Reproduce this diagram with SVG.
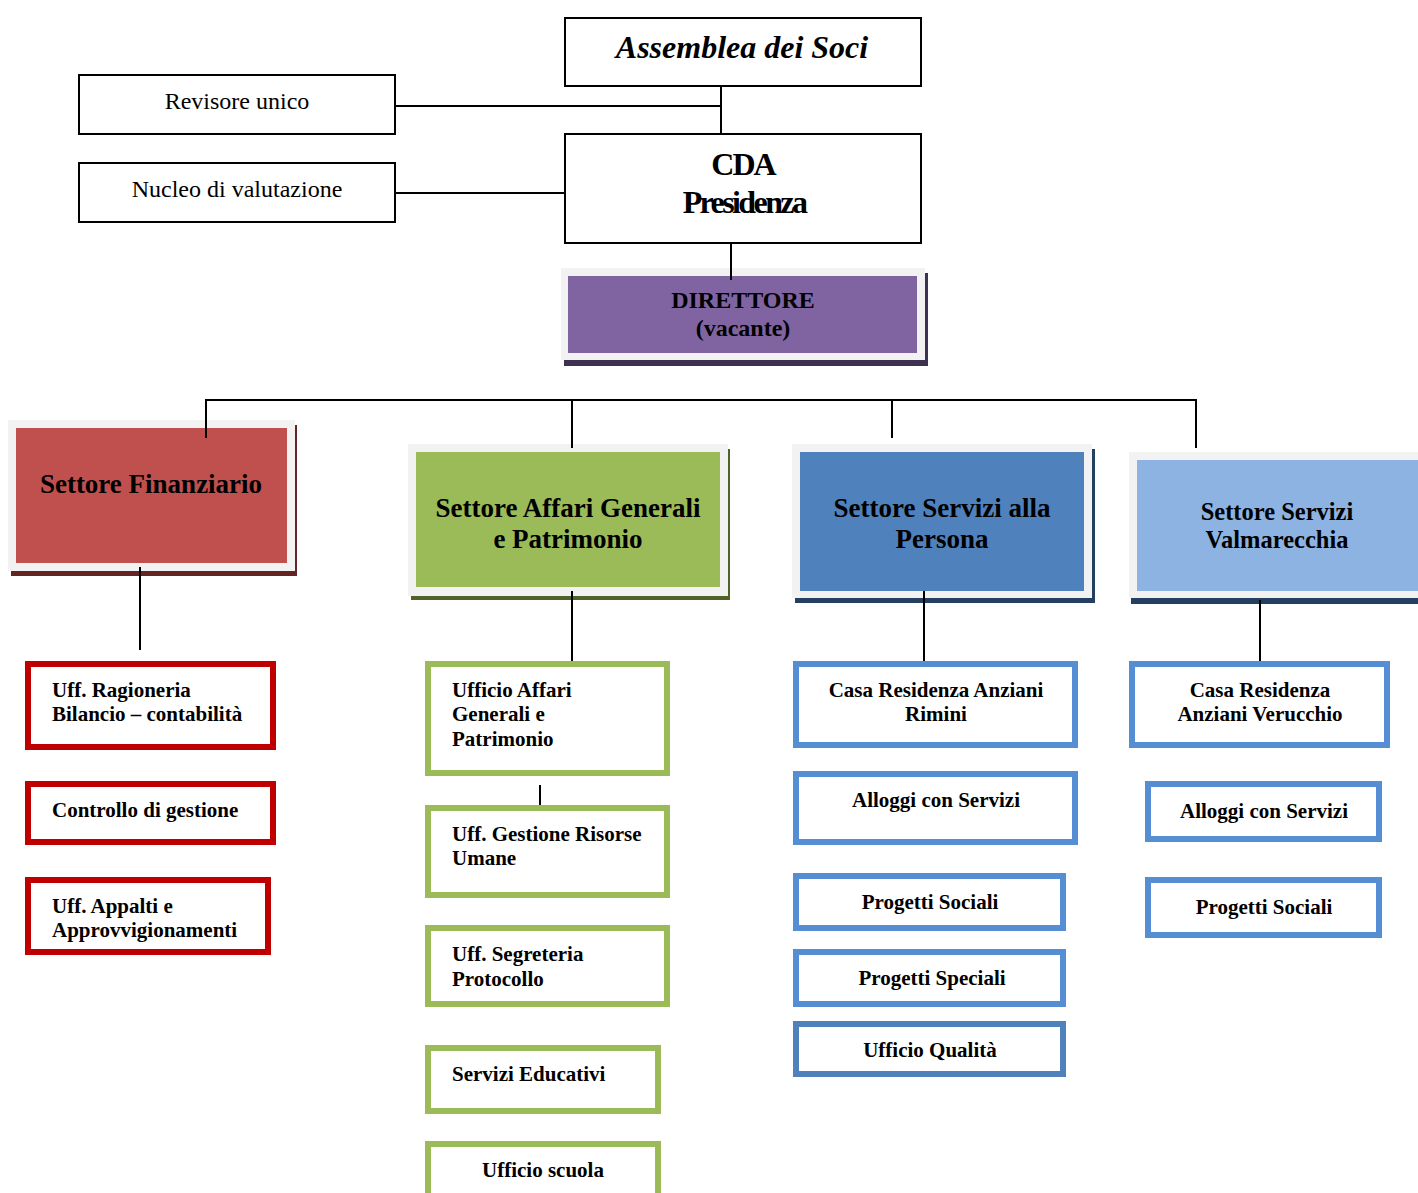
<svg xmlns="http://www.w3.org/2000/svg" width="1418" height="1193" viewBox="0 0 1418 1193">
<style>
text{font-family:"Liberation Serif","Times New Roman",serif;fill:#000}
.box{fill:#fff;stroke:#000;stroke-width:2}
.reg{font-size:24px;text-anchor:middle}
.sec{font-size:27px;font-weight:bold;text-anchor:middle}
.ch{font-size:21px;font-weight:bold}
.chc{font-size:21px;font-weight:bold;text-anchor:middle}
.red{fill:#fff;stroke:#c00000;stroke-width:6}
.grn{fill:#fff;stroke:#9bbb59;stroke-width:6}
.blu{fill:#fff;stroke:#558ed5;stroke-width:6}
.gray{fill:#f2f2f2}
.conn line{stroke:#000;stroke-width:2}
</style>
<g id="assemblea">
<rect class="box" x="565" y="18" width="356" height="68"/>
<text x="742" y="58" style="font-size:32px;font-weight:bold;font-style:italic;text-anchor:middle">Assemblea dei Soci</text>
</g>
<g id="revisore">
<rect class="box" x="79" y="75" width="316" height="59"/>
<text class="reg" x="237" y="109">Revisore unico</text>
</g>
<g id="nucleo">
<rect class="box" x="79" y="163" width="316" height="59"/>
<text class="reg" x="237" y="197">Nucleo di valutazione</text>
</g>
<g id="cda">
<rect class="box" x="565" y="134" width="356" height="109"/>
<text x="743" y="175" style="font-size:32px;font-weight:bold;text-anchor:middle;letter-spacing:-2px">CDA</text>
<text x="744" y="213" style="font-size:32px;font-weight:bold;text-anchor:middle;letter-spacing:-2.6px">Presidenza</text>
</g>
<g id="direttore">
<rect x="564" y="273" width="364" height="93" fill="#3f3151"/>
<rect class="gray" x="561" y="268" width="364" height="92"/>
<rect x="568" y="276" width="349" height="77" fill="#8064a2"/>
<text x="743" y="308" style="font-size:24px;font-weight:bold;text-anchor:middle">DIRETTORE</text>
<text x="743" y="336" style="font-size:24px;font-weight:bold;text-anchor:middle">(vacante)</text>
</g>
<g id="settore-finanziario">
<rect x="11" y="425" width="286" height="151" fill="#632423"/>
<rect class="gray" x="8" y="420" width="287" height="151"/>
<rect x="16" y="428" width="271" height="135" fill="#c0504d"/>
<text class="sec" x="151" y="493">Settore Finanziario</text>
</g>
<g id="settore-affari">
<rect x="411" y="449" width="319" height="151" fill="#4f6228"/>
<rect class="gray" x="408" y="444" width="320" height="152"/>
<rect x="416" y="452" width="304" height="135" fill="#9bbb59"/>
<text class="sec" x="568" y="517">Settore Affari Generali</text>
<text class="sec" x="568" y="548">e Patrimonio</text>
</g>
<g id="settore-persona">
<rect x="795" y="449" width="300" height="154" fill="#243f60"/>
<rect class="gray" x="792" y="444" width="300" height="154"/>
<rect x="800" y="452" width="284" height="139" fill="#4f81bd"/>
<text class="sec" x="942" y="517">Settore Servizi alla</text>
<text class="sec" x="942" y="548">Persona</text>
</g>
<g id="settore-valmarecchia">
<rect x="1131" y="455" width="290" height="149" fill="#243f60"/>
<rect class="gray" x="1129" y="452" width="292" height="146"/>
<rect x="1137" y="460" width="284" height="131" fill="#8db3e2"/>
<text class="sec" x="1277" y="520" style="font-size:24.5px">Settore Servizi</text>
<text class="sec" x="1277" y="548" style="font-size:24.5px">Valmarecchia</text>
</g>
<g id="connectors" class="conn">
<line x1="395" y1="106" x2="721" y2="106"/>
<line x1="721" y1="86" x2="721" y2="134"/>
<line x1="395" y1="193" x2="565" y2="193"/>
<line x1="731" y1="243" x2="731" y2="280"/>
<line x1="205" y1="400" x2="1197" y2="400"/>
<line x1="206" y1="399" x2="206" y2="438"/>
<line x1="572" y1="399" x2="572" y2="448"/>
<line x1="892" y1="399" x2="892" y2="438"/>
<line x1="1196" y1="399" x2="1196" y2="448"/>
<line x1="140" y1="567" x2="140" y2="650"/>
<line x1="572" y1="591" x2="572" y2="663"/>
<line x1="924" y1="591" x2="924" y2="663"/>
<line x1="1260" y1="600" x2="1260" y2="663"/>
<line x1="540" y1="785" x2="540" y2="815"/>
</g>
<g id="uff-ragioneria">
<rect class="red" x="28" y="664" width="245" height="83"/>
<text class="ch" x="52" y="697">Uff. Ragioneria</text>
<text class="ch" x="52" y="721">Bilancio – contabilità</text>
</g>
<g id="controllo-gestione">
<rect class="red" x="28" y="784" width="245" height="58"/>
<text class="ch" x="52" y="817">Controllo di gestione</text>
</g>
<g id="uff-appalti">
<rect class="red" x="28" y="880" width="240" height="72"/>
<text class="ch" x="52" y="913">Uff. Appalti e</text>
<text class="ch" x="52" y="937">Approvvigionamenti</text>
</g>
<g id="ufficio-affari">
<rect class="grn" x="428" y="664" width="239" height="109"/>
<text class="ch" x="452" y="697">Ufficio Affari</text>
<text class="ch" x="452" y="721">Generali e</text>
<text class="ch" x="452" y="746">Patrimonio</text>
</g>
<g id="uff-risorse-umane">
<rect class="grn" x="428" y="808" width="239" height="87"/>
<text class="ch" x="452" y="841">Uff. Gestione Risorse</text>
<text class="ch" x="452" y="865">Umane</text>
</g>
<g id="uff-segreteria">
<rect class="grn" x="428" y="928" width="239" height="76"/>
<text class="ch" x="452" y="961">Uff. Segreteria</text>
<text class="ch" x="452" y="986">Protocollo</text>
</g>
<g id="servizi-educativi">
<rect class="grn" x="428" y="1048" width="230" height="63"/>
<text class="ch" x="452" y="1081">Servizi Educativi</text>
</g>
<g id="ufficio-scuola">
<rect class="grn" x="428" y="1144" width="230" height="70"/>
<text class="chc" x="543" y="1177">Ufficio scuola</text>
</g>
<g id="casa-rimini">
<rect class="blu" x="796" y="664" width="279" height="81"/>
<text class="chc" x="936" y="697">Casa Residenza Anziani</text>
<text class="chc" x="936" y="721">Rimini</text>
</g>
<g id="alloggi-persona">
<rect class="blu" x="796" y="774" width="279" height="68"/>
<text class="chc" x="936" y="807">Alloggi con Servizi</text>
</g>
<g id="progetti-sociali-persona">
<rect class="blu" x="796" y="876" width="267" height="52"/>
<text class="chc" x="930" y="909">Progetti Sociali</text>
</g>
<g id="progetti-speciali">
<rect class="blu" x="796" y="952" width="267" height="52"/>
<text class="chc" x="932" y="985">Progetti Speciali</text>
</g>
<g id="ufficio-qualita">
<rect class="blu" x="796" y="1024" width="267" height="50" style="stroke:#4f81bd"/>
<text class="chc" x="930" y="1057">Ufficio Qualità</text>
</g>
<g id="casa-verucchio">
<rect class="blu" x="1132" y="664" width="255" height="81"/>
<text class="chc" x="1260" y="697">Casa Residenza</text>
<text class="chc" x="1260" y="721">Anziani Verucchio</text>
</g>
<g id="alloggi-valmarecchia">
<rect class="blu" x="1148" y="784" width="231" height="55"/>
<text class="chc" x="1264" y="818">Alloggi con Servizi</text>
</g>
<g id="progetti-sociali-valmarecchia">
<rect class="blu" x="1148" y="880" width="231" height="55"/>
<text class="chc" x="1264" y="914">Progetti Sociali</text>
</g>
</svg>
